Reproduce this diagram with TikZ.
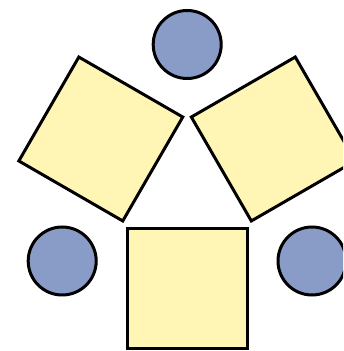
\documentclass[tikz,border=0pt]{standalone}
\definecolor{sqfill}{RGB}{255,246,182}
\definecolor{cfill}{RGB}{137,156,199}
\begin{document}
\begin{tikzpicture}[x=1pt,y=1pt,
  sq/.style={draw=black,line width=3pt,fill=sqfill,rectangle,minimum width=120pt,minimum height=120pt,inner sep=0pt,line join=miter},
  ball/.style={draw=black,line width=3pt,fill=cfill,circle,minimum size=68pt,inner sep=0pt}]
\clip (0,0) rectangle (343,351);
\useasboundingbox (0,0) rectangle (343,351);
\node[sq,rotate=-30] (lsq) at (100.8,212) {};
\node[sq,rotate=30] (rsq) at (273.3,212) {};
\node[sq] (bsq) at (187,62.5) {};
\node[ball] (top) at (187.2,306.5) {};
\node[ball] (lc) at (62.2,90) {};
\node[ball] (rc) at (312,90) {};
\end{tikzpicture}
\end{document}
